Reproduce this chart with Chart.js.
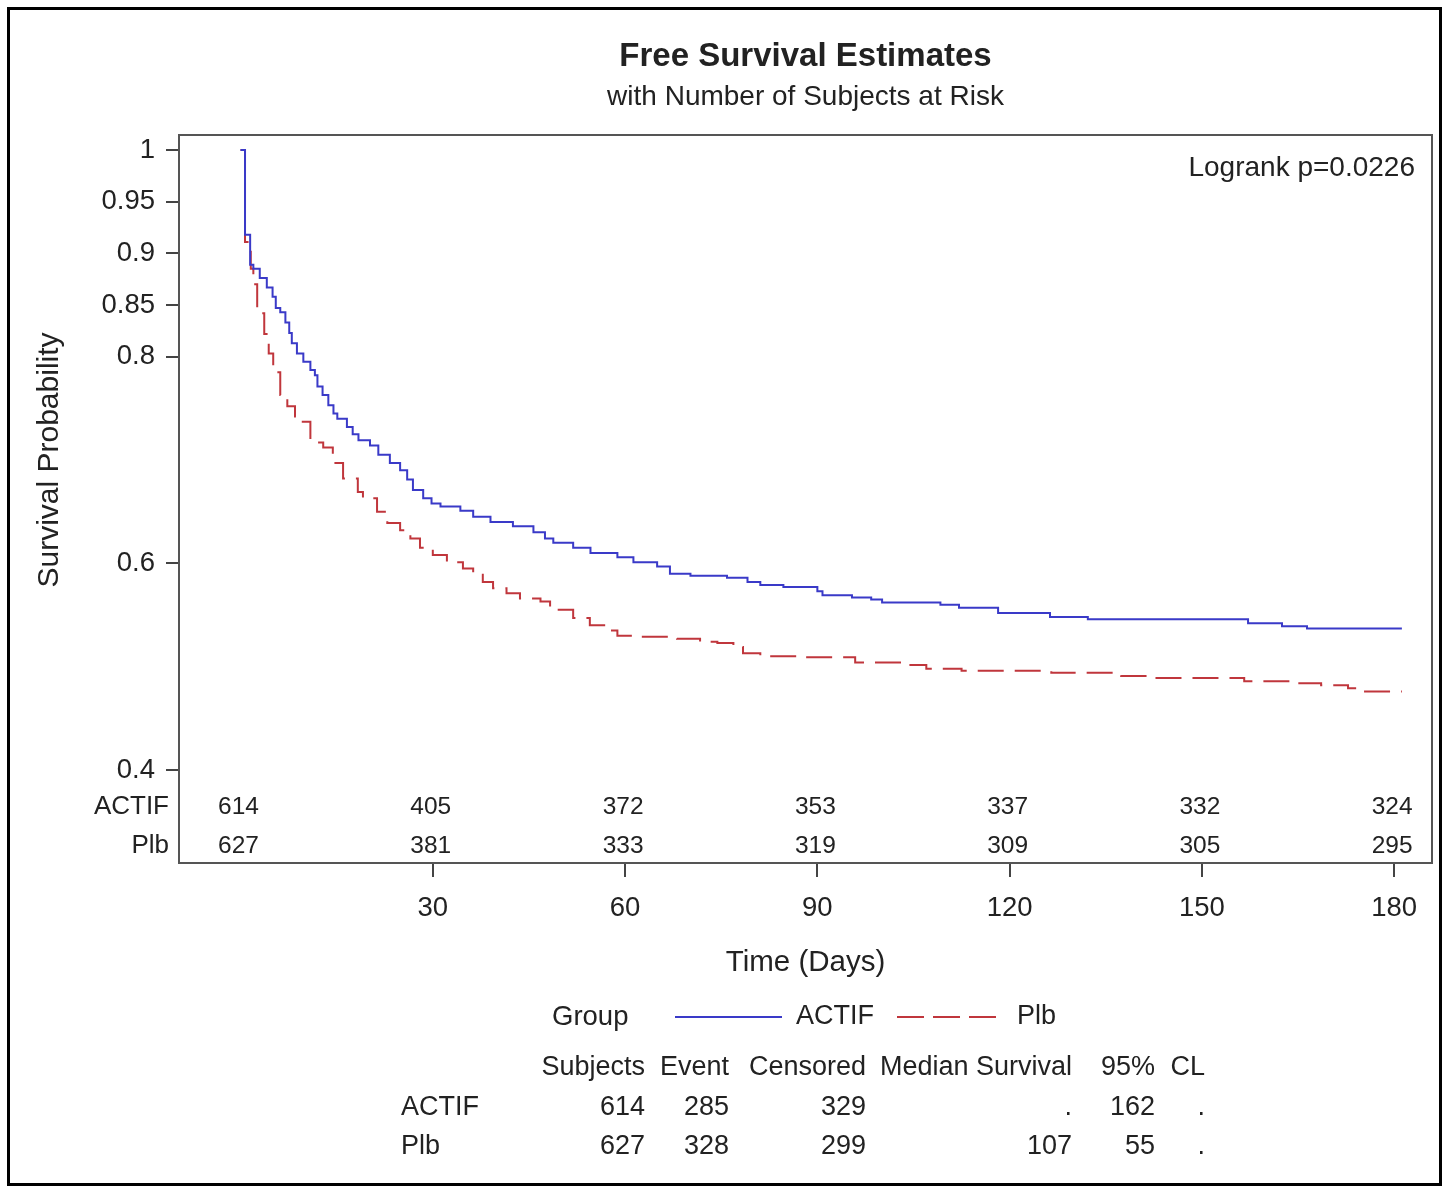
<!DOCTYPE html>
<html>
<head>
<meta charset="utf-8">
<script src="https://cdn.jsdelivr.net/npm/chart.js@4.4.1/dist/chart.umd.min.js"></script>
<style>
  html, body { margin: 0; padding: 0; background: #fff; }
  #wrap { position: relative; width: 1445px; height: 1188px; }
</style>
</head>
<body>
<div id="wrap"><canvas id="km" width="1445" height="1188"></canvas></div>
<script>
// Kaplan-Meier steps: [day, survival after the event]
const actifKM = [[0,1.000],[0.7,0.918],[1.5,0.889],[2.0,0.885],[3.0,0.876],[4.1,0.867],[5.0,0.858],
  [5.5,0.847],[6.2,0.843],[7.0,0.833],[7.6,0.823],[8.0,0.813],[8.8,0.803],[9.8,0.795],[10.9,0.787],
  [11.6,0.782],[12.0,0.771],[12.8,0.763],[13.7,0.753],[14.5,0.745],[15.1,0.740],[16.6,0.732],
  [17.5,0.725],[18.4,0.719],[20.2,0.714],[21.5,0.705],[23.3,0.697],[24.9,0.690],[26.0,0.681],
  [26.9,0.671],[28.5,0.663],[29.8,0.658],[31.2,0.655],[34.3,0.651],[36.3,0.645],[39.0,0.640],
  [42.5,0.636],[45.7,0.630],[47.5,0.624],[48.8,0.620],[51.9,0.615],[54.6,0.610],[58.8,0.606],
  [61.3,0.601],[65.0,0.597],[67.0,0.590],[70.2,0.588],[75.9,0.586],[79.1,0.582],[81.1,0.579],
  [84.7,0.577],[90.0,0.573],[90.8,0.569],[95.4,0.567],[98.4,0.565],[100.1,0.562],[109.2,0.560],
  [112.1,0.557],[118.2,0.552],[126.3,0.548],[132.2,0.546],[157.2,0.542],[162.5,0.539],[166.4,0.537],
  [181.2,0.537]];
const plbKM = [[0,1.000],[0.7,0.911],[1.6,0.885],[2.0,0.870],[2.6,0.842],[3.7,0.822],[4.4,0.803],
  [5.1,0.785],[6.2,0.763],[7.3,0.752],[8.5,0.742],[9.3,0.737],[10.9,0.717],[12.9,0.712],[14.4,0.697],
  [16.0,0.682],[18.3,0.669],[19.1,0.663],[21.3,0.650],[22.9,0.639],[24.9,0.632],[26.5,0.624],
  [28.0,0.615],[30.0,0.608],[32.2,0.601],[34.7,0.595],[36.3,0.589],[37.8,0.582],[39.4,0.576],
  [41.5,0.571],[43.6,0.566],[46.8,0.563],[48.3,0.555],[51.9,0.547],[54.5,0.540],[57.2,0.535],
  [58.8,0.530],[61.3,0.529],[68.1,0.527],[71.7,0.524],[74.4,0.523],[76.9,0.519],[78.4,0.513],
  [81.1,0.510],[88.0,0.509],[95.9,0.504],[103.7,0.5015],[107.0,0.498],[112.5,0.496],[126.5,0.494],
  [137.4,0.491],[142.7,0.489],[156.6,0.486],[164.4,0.484],[168.6,0.482],[172.8,0.479],[175.2,0.476],
  [181.2,0.476]];

const groups = ['ACTIF', 'Plb'];
const riskDays = [0, 30, 60, 90, 120, 150, 180];
const riskActif = [614, 405, 372, 353, 337, 332, 324];
const riskPlb = [627, 381, 333, 319, 309, 305, 295];
const xTicks = [30, 60, 90, 120, 150, 180];
const yTicks = [0.4, 0.6, 0.8, 0.85, 0.9, 0.95, 1];

const statHeads = ['Subjects', 'Event', 'Censored', 'Median Survival', '95%', 'CL'];
const statActif = ['614', '285', '329', '.', '162', '.'];
const statPlb = ['627', '328', '299', '107', '55', '.'];

const FONT = '"Liberation Sans", Arial, sans-serif';
const INK = '#222';
const BLUE = '#3a3ac8';
const RED = '#c0363c';

function txt(ctx, s, x, y, size, align, bold) {
  ctx.font = (bold ? 'bold ' : '') + size + 'px ' + FONT;
  ctx.textAlign = align || 'left';
  ctx.textBaseline = 'middle';
  ctx.fillStyle = INK;
  ctx.fillText(s, x, y);
}

const extras = {
  id: 'extras',
  afterDraw(chart) {
    const ctx = chart.ctx, a = chart.chartArea;
    const xs = chart.scales.x, ys = chart.scales.y;
    const cx = (a.left + a.right) / 2;
    ctx.save();

    // frame around the plot
    ctx.strokeStyle = '#555';
    ctx.lineWidth = 2;
    ctx.strokeRect(a.left, a.top, a.right - a.left, a.bottom - a.top);

    // outer frame
    ctx.strokeStyle = '#000';
    ctx.lineWidth = 3;
    ctx.strokeRect(8.5, 8.5, 1432, 1176);

    txt(ctx, 'Free Survival Estimates', cx, 57, 33, 'center', true);
    txt(ctx, 'with Number of Subjects at Risk', cx, 97, 28, 'center');
    txt(ctx, 'Logrank p=0.0226', a.right - 17, 168, 28, 'right');

    // axis titles
    txt(ctx, 'Time (Days)', cx, 963, 29.5, 'center');
    ctx.save();
    ctx.translate(50, ys.getPixelForValue(0.7));
    ctx.rotate(-Math.PI / 2);
    txt(ctx, 'Survival Probability', 0, 0, 30, 'center');
    ctx.restore();

    // subjects at risk
    const r1 = a.bottom - 56, r2 = a.bottom - 17;
    txt(ctx, groups[0], a.left - 10, r1, 26, 'right');
    txt(ctx, groups[1], a.left - 10, r2, 26, 'right');
    riskDays.forEach((d, i) => {
      const px = xs.getPixelForValue(d) - 2;
      txt(ctx, String(riskActif[i]), px, r1, 24.5, 'center');
      txt(ctx, String(riskPlb[i]), px, r2, 24.5, 'center');
    });

    // legend
    const ly = 1017;
    txt(ctx, 'Group', 552, ly, 27.5, 'left');
    ctx.lineWidth = 2;
    ctx.strokeStyle = BLUE;
    ctx.setLineDash([]);
    ctx.beginPath(); ctx.moveTo(675, ly); ctx.lineTo(782, ly); ctx.stroke();
    txt(ctx, groups[0], 796, ly, 27, 'left');
    ctx.strokeStyle = RED;
    ctx.setLineDash([27, 9]);
    ctx.beginPath(); ctx.moveTo(897, ly); ctx.lineTo(996, ly); ctx.stroke();
    ctx.setLineDash([]);
    txt(ctx, groups[1], 1017, ly, 27, 'left');

    // summary table
    const colRight = [645, 729, 866, 1072, 1155, 1205];
    statHeads.forEach((h, i) => txt(ctx, h, colRight[i], 1068, 27, 'right'));
    txt(ctx, groups[0], 401, 1108, 27, 'left');
    txt(ctx, groups[1], 401, 1147, 27, 'left');
    statActif.forEach((v, i) => txt(ctx, v, colRight[i], 1108, 27, 'right'));
    statPlb.forEach((v, i) => txt(ctx, v, colRight[i], 1147, 27, 'right'));

    ctx.restore();
  }
};

new Chart(document.getElementById('km'), {
  type: 'line',
  data: {
    datasets: [
      {
        label: groups[0],
        data: actifKM.map(p => ({ x: p[0], y: p[1] })),
        borderColor: BLUE,
        borderWidth: 2,
        pointRadius: 0,
        stepped: true,
        fill: false
      },
      {
        label: groups[1],
        data: plbKM.map(p => ({ x: p[0], y: p[1] })),
        borderColor: RED,
        borderWidth: 2,
        borderDash: [26, 11],
        pointRadius: 0,
        stepped: true,
        fill: false
      }
    ]
  },
  options: {
    responsive: false,
    animation: false,
    devicePixelRatio: 1,
    layout: { padding: { left: 0, top: 135, right: 13, bottom: 0 } },
    plugins: { legend: { display: false }, tooltip: { enabled: false }, title: { display: false } },
    scales: {
      x: {
        type: 'linear',
        min: -9.6,
        max: 185.9,
        afterBuildTicks: s => { s.ticks = xTicks.map(v => ({ value: v })); },
        afterFit: s => { s.height = 325; },
        ticks: { font: { family: FONT, size: 27.5 }, color: INK, padding: 15, maxRotation: 0, autoSkip: false },
        grid: { drawOnChartArea: false, drawTicks: true, tickLength: 14, color: '#444', lineWidth: 2 },
        border: { display: false }
      },
      y: {
        type: 'linear',
        min: 0.31,
        max: 1.0145,
        afterBuildTicks: s => { s.ticks = yTicks.map(v => ({ value: v })); },
        afterFit: s => { s.width = 179; },
        ticks: { font: { family: FONT, size: 27.5 }, color: INK, padding: 11, autoSkip: false,
          callback: v => String(v) },
        grid: { drawOnChartArea: false, drawTicks: true, tickLength: 13, color: '#444', lineWidth: 2 },
        border: { display: false }
      }
    }
  },
  plugins: [extras]
});
</script>
</body>
</html>
